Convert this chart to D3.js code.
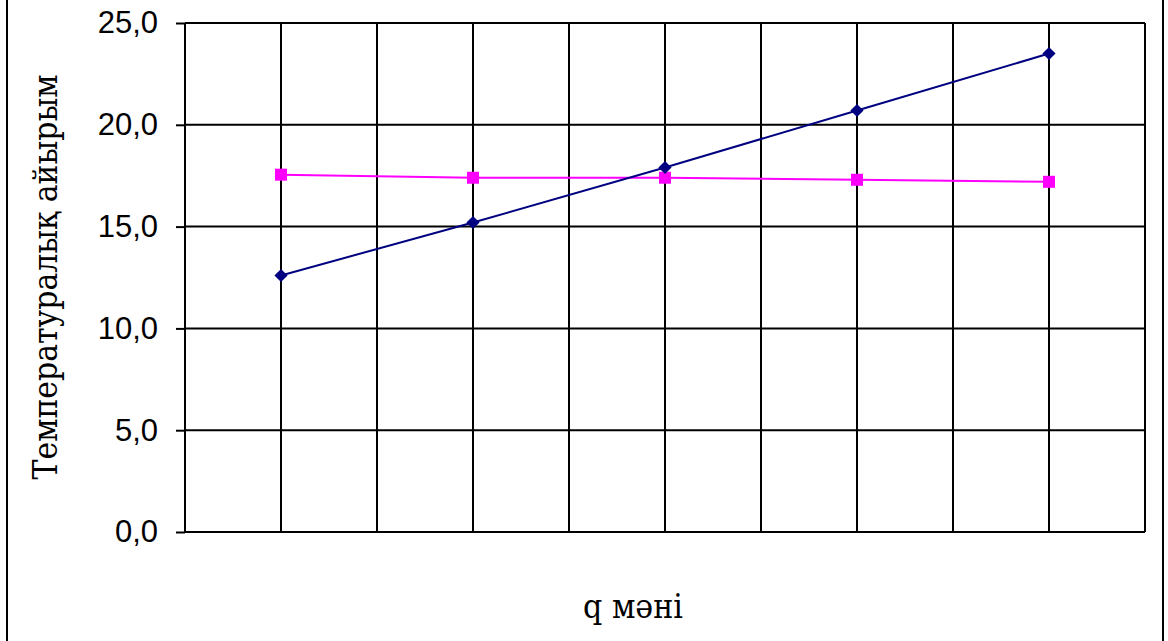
<!DOCTYPE html>
<html><head><meta charset="utf-8">
<script src="https://cdn.jsdelivr.net/npm/d3@7"></script>
<style>body{margin:0;background:#fff;} svg{display:block;} .ttl{font-family:'DejaVu Serif',serif;}</style>
</head><body>
<svg id="c" width="1168" height="641"></svg>
<script>
const xPositions = [1, 3, 5, 7, 9];
const seriesBlue = [12.6, 15.2, 17.9, 20.7, 23.5];
const seriesPink = [17.55, 17.4, 17.4, 17.3, 17.2];
const yTicks = [0, 5, 10, 15, 20, 25];
const xGrid = [0,1,2,3,4,5,6,7,8,9,10];
const yTitle = "Температуралық айырым";
const xTitle = "q мәні";

const svg = d3.select("#c");
const L = 185, R = 1145, T = 23, B = 532;
const x = d3.scaleLinear().domain([0, 10]).range([L, R]);
const y = d3.scaleLinear().domain([0, 25]).range([B, T]);

// outer frame
svg.append("rect").attr("x", 7).attr("y", -5).attr("width", 1156).attr("height", 660)
  .attr("fill", "none").attr("stroke", "#000").attr("stroke-width", 2);

// grid
const g = svg.append("g");
g.selectAll(".vg").data(xGrid).join("line")
  .attr("x1", d => x(d)).attr("x2", d => x(d)).attr("y1", T).attr("y2", B)
  .attr("stroke", "#000").attr("stroke-width", 2);
g.selectAll(".hg").data(yTicks).join("line")
  .attr("x1", L).attr("x2", R).attr("y1", d => y(d)).attr("y2", d => y(d))
  .attr("stroke", "#000").attr("stroke-width", 2);

// y axis
const yAxis = d3.axisLeft(y).tickValues(yTicks).tickSize(9).tickPadding(18)
  .tickFormat(d => d3.format(".1f")(d).replace(".", ","));
const ya = svg.append("g").attr("transform", `translate(${L},0)`).call(yAxis);
ya.select(".domain").remove();
ya.selectAll(".tick line").attr("stroke", "#000").attr("stroke-width", 2);
ya.selectAll(".tick text").attr("font-family", "'Liberation Sans', Arial, sans-serif")
  .attr("font-size", 31).attr("fill", "#000");

// titles
const yt = svg.append("text").attr("class", "ttl").attr("transform", `translate(57,277) rotate(-90)`)
  .attr("text-anchor", "middle")
  .style("font-size", "34px").attr("fill", "#000").text(yTitle);
const xt = svg.append("text").attr("class", "ttl").attr("x", 633).attr("y", 618)
  .attr("text-anchor", "middle")
  .style("font-size", "34px").attr("fill", "#000").text(xTitle);
yt.attr("textLength", 405).attr("lengthAdjust", "spacingAndGlyphs");
xt.attr("textLength", 100).attr("lengthAdjust", "spacingAndGlyphs");

// series
const line = d3.line().x((d, i) => x(xPositions[i])).y(d => y(d));
svg.append("path").datum(seriesPink).attr("d", line).attr("fill", "none")
  .attr("stroke", "#FF00FF").attr("stroke-width", 2);
svg.append("path").datum(seriesBlue).attr("d", line).attr("fill", "none")
  .attr("stroke", "#000080").attr("stroke-width", 2);

svg.selectAll(".pm").data(seriesPink).join("rect")
  .attr("x", (d, i) => x(xPositions[i]) - 6).attr("y", d => y(d) - 6)
  .attr("width", 12).attr("height", 12).attr("fill", "#FF00FF");
svg.selectAll(".bm").data(seriesBlue).join("path")
  .attr("d", d3.symbol().type(d3.symbolDiamond2).size(110))
  .attr("transform", (d, i) => `translate(${x(xPositions[i])},${y(d)})`)
  .attr("fill", "#000080");
</script>
</body></html>
